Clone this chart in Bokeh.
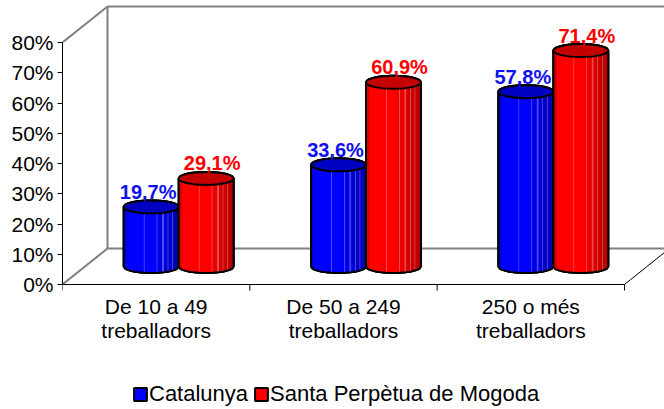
import numpy as np
from bokeh.plotting import figure
from bokeh.models import Range1d, FixedTicker, Legend, LegendItem, LinearAxis
from bokeh.core.properties import value
from bokeh.embed import file_html
from bokeh.resources import INLINE

# ---------------- data ----------------
categories = ["De 10 a 49\ntreballadors", "De 50 a 249\ntreballadors", "250 o més\ntreballadors"]
series_names = ["Catalunya", "Santa Perpètua de Mogoda"]
catalunya = [19.7, 33.6, 57.8]
santa_perpetua = [29.1, 60.9, 71.4]
y_ticks = [0, 10, 20, 30, 40, 50, 60, 70, 80]
y_tick_labels = ["0%", "10%", "20%", "30%", "40%", "50%", "60%", "70%", "80%"]

# ---------------- layout / style ----------------
W, H = 664, 409
BORDER_LEFT = 62
AXIS_Y_PX = 284          # screen row of the 0% line
PX_PER_CAT = 187.33
PX_PER_PCT = 3.025
DEPTH_X_PX, DEPTH_Y_PX = 45, 36
RADIUS_PX = 27.5
ELL_HALF_PX = 6.5
FONT = "Liberation Sans"

frame_w = W - BORDER_LEFT
x_max = frame_w / PX_PER_CAT
y_max = AXIS_Y_PX / PX_PER_PCT
y_min = -(H - AXIS_Y_PX) / PX_PER_PCT
DX = DEPTH_X_PX / PX_PER_CAT
DY = DEPTH_Y_PX / PX_PER_PCT
R = RADIUS_PX / PX_PER_CAT
B = ELL_HALF_PX / PX_PER_PCT
ncat = len(categories)
ytop = y_ticks[-1]

p = figure(width=W, height=H, x_range=Range1d(0, x_max), y_range=Range1d(y_min, y_max),
           output_backend="svg", toolbar_location=None,
           min_border_left=BORDER_LEFT, min_border_right=0, min_border_top=0,
           min_border_bottom=0, x_axis_type=None, y_axis_type=None)
p.outline_line_color = None
p.background_fill_color = "white"
p.border_fill_color = "white"

# ---------------- walls / floor ----------------
gx0 = [DX, DX, DX, 0, 0, ncat + DX]
gy0 = [DY, ytop + DY, DY, ytop, 0, DY]
gx1 = [DX, ncat + DX, ncat + DX, DX, DX, ncat + DX]
gy1 = [ytop + DY, ytop + DY, DY, ytop + DY, DY, ytop + DY]
p.segment(gx0, gy0, gx1, gy1, line_color="#808080", line_width=2)
p.segment([ncat], [0], [ncat + DX], [DY], line_color="black", line_width=1)

# ---------------- y axis ----------------
yax = LinearAxis(ticker=FixedTicker(ticks=y_ticks), bounds=(0, ytop))
yax.major_label_overrides = {t: l for t, l in zip(y_ticks, y_tick_labels)}
yax.axis_line_color = "black"
yax.major_tick_line_color = "black"
yax.major_tick_in = 0
yax.major_tick_out = 5
yax.minor_tick_line_color = None
yax.major_label_standoff = 4
yax.major_label_text_font = FONT
yax.major_label_text_font_size = "21px"
yax.major_label_text_color = "black"
p.add_layout(yax, "left")

# ---------------- category axis (drawn in data space) ----------------
cat_centers = [i + 0.5 for i in range(ncat)]
cat_bounds = [i for i in range(ncat + 1)]
p.segment([0], [0], [ncat], [0], line_color="black", line_width=1)
p.ray(x=cat_bounds, y=[0] * len(cat_bounds), length=6, length_units="screen",
      angle=-np.pi / 2, line_color="black", line_width=1)
p.text(x=cat_centers, y=[0] * ncat, text=categories, text_align="center", text_baseline="top",
       y_offset=10, text_font=value(FONT), text_font_size="21px", text_color="black",
       text_line_height=1.08)

# ---------------- cylinders ----------------
def hexc(rgb):
    return "#%02x%02x%02x" % tuple(int(max(0, min(255, round(v)))) for v in rgb)

def shade(base, u):
    base = np.array(base, dtype=float)
    if u < -0.88:
        f = 0.82
    elif u < 0.05:
        f = 1.0
    else:
        f = 1.0 - 0.38 * (u - 0.05) / 0.95
    col = base * f
    for hu in (-0.25, 0.22, 0.42, 0.62, 0.78):
        if abs(u - hu) < 0.03:
            col = col + (255 - col) * 0.35
    return hexc(col)

series = [
    (catalunya, (0, 0, 255), "#0000c0", "#1010ee", -3),
    (santa_perpetua, (255, 0, 0), "#c40000", "#ff0000", 6),
]

nstrip = 60
uu = np.linspace(-1, 1, 41)
legend_items = []
for s, (vals, base_rgb, top_col, lab_col, lab_dx) in enumerate(series):
    sil_xs, sil_ys = [], []
    sl, sr, st, sb, sc = [], [], [], [], []
    cx, cy = [], []
    for i, v in enumerate(vals):
        c = cat_centers[i] + DX / 2 + (2 * s - 1) * R
        y0 = DY / 2
        y1 = y0 + v
        cx.append(c)
        cy.append(y1)
        xs = [c - R] + list(c + R * uu) + [c + R] + list(c + R * uu[::-1])
        ys = ([y1] + list(y0 - B * np.sqrt(np.clip(1 - uu ** 2, 0, 1))) + [y1]
              + list(y1 + B * np.sqrt(np.clip(1 - uu[::-1] ** 2, 0, 1))))
        sil_xs.append(xs)
        sil_ys.append(ys)
        edges = np.linspace(-1, 1, nstrip + 1)
        for k in range(nstrip):
            a, b2 = edges[k], edges[k + 1]
            um = 0.5 * (a + b2)
            sl.append(c + R * a)
            sr.append(c + R * b2)
            st.append(y1)
            sb.append(y0 - B * np.sqrt(max(0.0, 1 - max(a * a, b2 * b2))))
            sc.append(shade(base_rgb, um))
    fill_r = p.patches(sil_xs, sil_ys, fill_color=hexc(base_rgb), line_color="black", line_width=2)
    p.quad(left=sl, right=sr, top=st, bottom=sb, fill_color=sc, line_color=None)
    p.patches(sil_xs, sil_ys, fill_color=None, line_color="black", line_width=2)
    p.ellipse(x=cx, y=cy, width=2 * R, height=2 * B, fill_color=top_col, line_color="black", line_width=2)
    labels = [("%.1f" % v).replace(".", ",") + "%" for v in vals]
    p.text(x=cx, y=cy, text=labels, text_align="center", text_baseline="alphabetic",
           x_offset=lab_dx, y_offset=-15, text_font=value(FONT), text_font_style="bold",
           text_font_size="20px", text_color=lab_col)
    legend_items.append(LegendItem(label=series_names[s], renderers=[fill_r]))

legend = Legend(items=legend_items, orientation="horizontal", location=(70, 2),
                glyph_width=16, glyph_height=16, label_standoff=1, spacing=5,
                padding=0, margin=0, border_line_color=None, background_fill_alpha=0,
                label_text_font=FONT, label_text_font_size="22px", label_text_color="black")
p.add_layout(legend, "center")

open("out.html", "w").write(file_html(p, INLINE))
